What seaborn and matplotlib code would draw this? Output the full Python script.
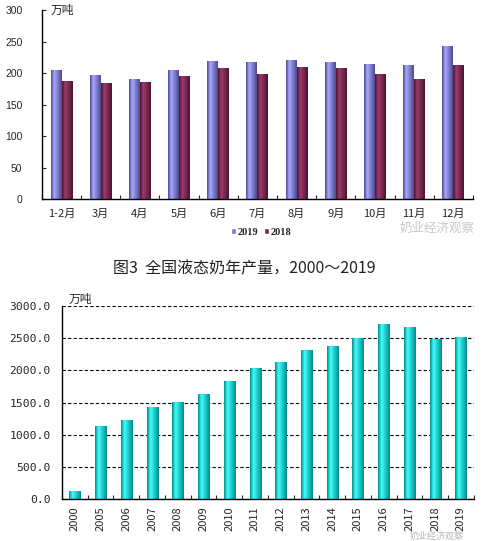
import numpy as np
import pandas as pd
import matplotlib
matplotlib.use("Agg")
import matplotlib.pyplot as plt
from matplotlib.colors import LinearSegmentedColormap
from matplotlib.patches import Patch
import seaborn as sns

sns.set_theme(style="white")
plt.rcParams['font.family'] = ['Noto Sans CJK SC', 'DejaVu Sans']

# ---- data ----
months = ["1-2月", "3月", "4月", "5月", "6月", "7月", "8月", "9月", "10月", "11月", "12月"]
v2019 = [205, 197, 190, 205, 219, 218, 221, 218, 214, 213, 243]
v2018 = [187, 184, 186, 195, 208, 198, 210, 208, 198, 190, 213]
series_names = ["2019", "2018"]

years = ["2000", "2005", "2006", "2007", "2008", "2009", "2010", "2011", "2012",
         "2013", "2014", "2015", "2016", "2017", "2018", "2019"]
annual = [129, 1138, 1231, 1433, 1510, 1635, 1837, 2038, 2131, 2317, 2379,
          2503, 2721, 2674, 2488, 2519]

title_text = "图3  全国液态奶年产量，2000～2019"
unit_text = "万吨"
watermark = "奶业经济观察"

df_m = pd.DataFrame({
    "month": months * 2,
    "value": v2019 + v2018,
    "series": [series_names[0]] * len(months) + [series_names[1]] * len(months),
})
df_y = pd.DataFrame({"year": years, "value": annual})

fig = plt.figure(figsize=(4.88, 5.41), dpi=100)

def gradient_fill(ax, patches, dark, light):
    cmap = LinearSegmentedColormap.from_list("g", [(0, dark), (0.3, light), (1, dark)])
    grad = np.linspace(0, 1, 64).reshape(1, -1)
    for p in patches:
        x0, y0 = p.get_x(), p.get_y()
        w, h = p.get_width(), p.get_height()
        if h <= 0:
            continue
        im = ax.imshow(grad, cmap=cmap, aspect="auto",
                       extent=(x0, x0 + w, y0, y0 + h), zorder=p.get_zorder() + 0.1,
                       interpolation="bilinear")
        im.set_clip_path(p)
        p.set_edgecolor("none")

# ---- top chart ----
ax1 = fig.add_axes([0.086, 0.632, 0.883, 0.3495])
pal = {"2019": "#9999ff", "2018": "#993366"}
sns.barplot(data=df_m, x="month", y="value", hue="series", palette=pal,
            width=0.56, ax=ax1, legend=False, saturation=1)
bars19 = ax1.patches[:len(months)]
bars18 = ax1.patches[len(months):2 * len(months)]
gradient_fill(ax1, bars19, "#4a4a90", "#a8a8ff")
gradient_fill(ax1, bars18, "#4a1530", "#a03a6c")
ax1.set_xlim(-0.5, len(months) - 0.5)
ax1.set_ylim(0, 300)
ax1.set_yticks(range(0, 301, 50))
ax1.set_xlabel("")
ax1.set_ylabel("")
for s in ["top", "right"]:
    ax1.spines[s].set_visible(False)
for s in ["left", "bottom"]:
    ax1.spines[s].set_color("black")
    ax1.spines[s].set_linewidth(1.0)
ax1.tick_params(axis="y", labelsize=7.5, direction="in", length=3, width=0.8, left=True, pad=14)
for t in ax1.get_yticklabels():
    t.set_family(["Liberation Sans", "DejaVu Sans"])
ax1.set_xticks(range(len(months)))
ax1.set_xticklabels(months)
ax1.tick_params(axis="x", which="major", length=0, labelsize=8, pad=7)
ax1.set_xticks(np.arange(-0.5, len(months), 1), minor=True)
ax1.tick_params(axis="x", which="minor", direction="in", length=3, width=0.8, bottom=True)
ax1.text(0.02, 1.0, unit_text, transform=ax1.transAxes, fontsize=8.5, va="center", ha="left")
handles = [Patch(facecolor="#7777dd", label="2019"), Patch(facecolor="#7a2a52", label="2018")]
fig.legend(handles=handles, loc="center", bbox_to_anchor=(0.535, 0.571), ncol=2,
           frameon=False, handlelength=0.45, handleheight=0.6, handletextpad=0.15,
           columnspacing=0.6, prop={"family": "Liberation Serif", "weight": "bold", "size": 7.5})
fig.text(0.895, 0.578, watermark, fontsize=9, color="#c8c8c8", ha="center", va="center")

# ---- title ----
fig.text(0.5, 0.503, title_text, fontsize=11.5, ha="center", va="center", color="#222222")

# ---- bottom chart ----
ax2 = fig.add_axes([0.127, 0.0776, 0.844, 0.3568])
sns.barplot(data=df_y, x="year", y="value", color="#00ffff", width=0.43, ax=ax2, saturation=1)
gradient_fill(ax2, ax2.patches[:len(years)], "#008c8c", "#40ffff")
ax2.set_xlim(-0.5, len(years) - 0.5)
ax2.set_ylim(0, 3000)
ax2.set_yticks(range(0, 3001, 500))
ax2.set_yticklabels([f"{v:.1f}" for v in range(0, 3001, 500)])
ax2.set_xlabel("")
ax2.set_ylabel("")
ax2.yaxis.grid(True, linestyle=(0, (3, 2)), color="black", linewidth=0.8)
ax2.set_axisbelow(True)
for s in ["top", "right"]:
    ax2.spines[s].set_visible(False)
for s in ["left", "bottom"]:
    ax2.spines[s].set_color("black")
    ax2.spines[s].set_linewidth(1.0)
ax2.tick_params(axis="y", labelsize=8.2, length=0, pad=8)
for t in ax2.get_yticklabels():
    t.set_family(["DejaVu Sans Mono"])
ax2.set_xticks(range(len(years)))
ax2.set_xticklabels(years, rotation=90)
ax2.tick_params(axis="x", which="major", length=0, labelsize=8, pad=5)
ax2.set_xticks(np.arange(-0.5, len(years), 1), minor=True)
ax2.tick_params(axis="x", which="minor", direction="in", length=3, width=0.8, bottom=True)
ax2.text(0.015, 1.0, unit_text, transform=ax2.transAxes, fontsize=8.5, va="bottom", ha="left")
fig.text(0.895, 0.009, watermark, fontsize=6.5, color="#b8b8b8", ha="center", va="center", zorder=0)

fig.savefig("out.png", dpi=100)
